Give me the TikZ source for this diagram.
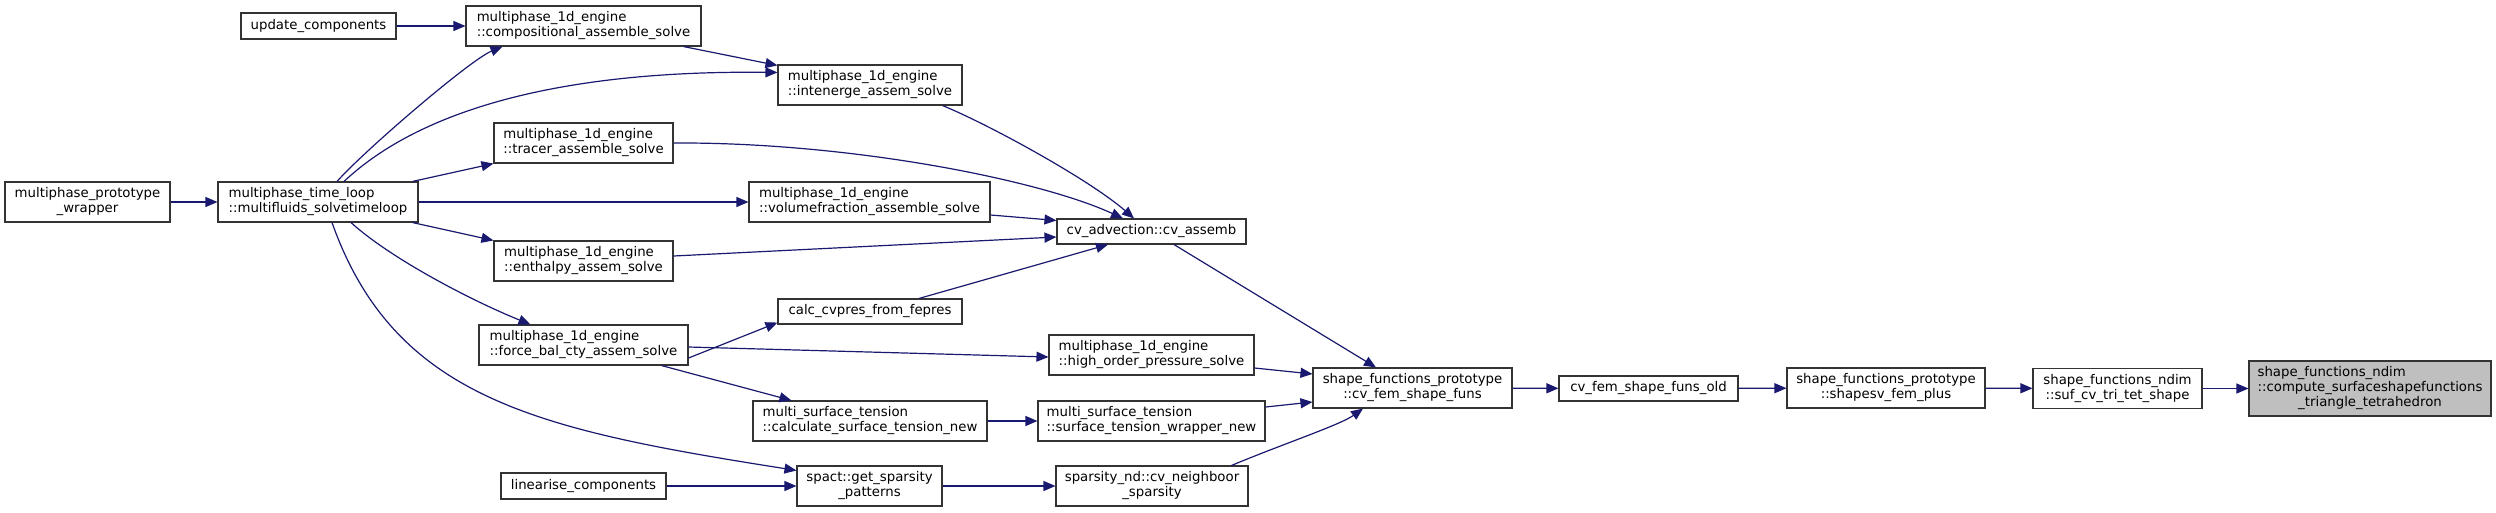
\documentclass[tikz,border=0pt]{standalone}
\usepackage{fontspec}
\setmainfont{DejaVu Sans}
\usetikzlibrary{arrows.meta,positioning}
\definecolor{edgeblue}{HTML}{191970}

\begin{document}
\begin{tikzpicture}[x=1pt,y=-1pt,
  b/.style={draw=black!80,line width=1.1pt,fill=white,inner sep=0pt,align=left,font=\fontsize{13.3}{15}\selectfont},
  e/.style={draw=edgeblue,line width=1.2pt,->},
  >={Triangle[length=12pt,width=10pt]}]
\useasboundingbox[fill=white] (0,0) rectangle (2496,512);
% left part: callers of the time loop
\node[b,minimum width=155pt,minimum height=26pt] (upd) at (318.5,26) {update\_components};
\node[b,minimum width=235pt,minimum height=40pt] (comp) at (583.5,26) {multiphase\_1d\_engine\\::compositional\_assemble\_solve};
\node[b,minimum width=184pt,minimum height=40pt] (inten) at (870,85) {multiphase\_1d\_engine\\::intenerge\_assem\_solve};
\node[b,minimum width=179pt,minimum height=40pt] (trac) at (583.5,143) {multiphase\_1d\_engine\\::tracer\_assemble\_solve};
\node[b,align=center,minimum width=165pt,minimum height=40pt] (wrap) at (87.5,202) {multiphase\_prototype\\\_wrapper};
\node[b,minimum width=200pt,minimum height=40pt] (loop) at (318,202) {multiphase\_time\_loop\\::multifluids\_solvetimeloop};
\node[b,minimum width=241pt,minimum height=40pt] (vol) at (869.5,202) {multiphase\_1d\_engine\\::volumefraction\_assemble\_solve};
\node[b,minimum width=189pt,minimum height=25pt] (asm) at (1151.5,231.5) {cv\_advection::cv\_assemb};
\node[b,minimum width=179pt,minimum height=40pt] (enth) at (583.5,261) {multiphase\_1d\_engine\\::enthalpy\_assem\_solve};
\node[b,minimum width=184pt,minimum height=25pt] (cvp) at (870,311.5) {calc\_cvpres\_from\_fepres};
\node[b,minimum width=209pt,minimum height=40pt] (force) at (583.5,345) {multiphase\_1d\_engine\\::force\_bal\_cty\_assem\_solve};
\node[b,minimum width=205pt,minimum height=40pt] (high) at (1151.5,355) {multiphase\_1d\_engine\\::high\_order\_pressure\_solve};
\node[b,minimum width=234pt,minimum height=40pt] (calst) at (870,421) {multi\_surface\_tension\\::calculate\_surface\_tension\_new};
\node[b,minimum width=227pt,minimum height=40pt] (stw) at (1151.5,421) {multi\_surface\_tension\\::surface\_tension\_wrapper\_new};
\node[b,minimum width=165pt,minimum height=26pt] (lin) at (583.5,486) {linearise\_components};
\node[b,align=center,minimum width=145pt,minimum height=40pt] (gsp) at (869.5,486) {spact::get\_sparsity\\\_patterns};
\node[b,align=center,minimum width=192pt,minimum height=40pt] (nbr) at (1152,486) {sparsity\_nd::cv\_neighboor\\\_sparsity};
% right part: the chain down to the function
\node[b,align=center,minimum width=199pt,minimum height=40pt] (fem) at (1412.5,388) {shape\_functions\_prototype\\::cv\_fem\_shape\_funs};
\node[b,minimum width=179pt,minimum height=25pt] (old) at (1648.5,388.5) {cv\_fem\_shape\_funs\_old};
\node[b,align=center,minimum width=198pt,minimum height=40pt] (svp) at (1886,388) {shape\_functions\_prototype\\::shapesv\_fem\_plus};
\node[b,align=center,minimum width=169pt,minimum height=40pt] (suf) at (2117.5,388.5) {shape\_functions\_ndim\\::suf\_cv\_tri\_tet\_shape};
\node[b,fill=black!25,minimum width=242pt,minimum height=55pt] (surf) at (2370,388.5) {\begin{tabular}{@{}l@{}}shape\_functions\_ndim\\::compute\_surfaceshapefunctions\\\multicolumn{1}{@{}c@{}}{\_triangle\_tetrahedron}\end{tabular}};

\draw[e] (wrap)--(loop);
\draw[e] (upd)--(comp);
\draw[e] ([xshift=19pt]loop.north) .. controls (365,150) and (470,60) .. ([xshift=37pt]comp.south west);
\draw[e] ([xshift=26pt]loop.north) .. controls (420,110) and (560,70) .. ([yshift=-8pt]inten.north west);
\draw[e] ([xshift=-18pt]comp.south east)--([yshift=-1pt]inten.north west);
\draw[e] ([xshift=-6pt]loop.north east)--(trac.south west);
\draw[e] (loop)--(vol);
\draw[e] ([xshift=-6pt]loop.south east)--(enth.north west);
\draw[e] ([xshift=33pt]loop.south) .. controls (390,258) and (470,300) .. ([xshift=52pt]force.north west);
\draw[e] ([xshift=14pt]loop.south) .. controls (395,400) and (540,430) .. ([yshift=-5pt]gsp.north west);
\draw[e] (lin)--(gsp);
\draw[e] ([xshift=-20pt]inten.south east) .. controls (990,125) and (1090,180) .. ([xshift=-17.5pt]asm.north);
\draw[e] (trac.east) .. controls (850,142) and (1040,180) .. ([xshift=-28.5pt]asm.north);
\draw[e] ([yshift=-13pt]vol.east)--([yshift=-2pt]asm.north west);
\draw[e] ([yshift=5pt]enth.east)--([yshift=-5.5pt]asm.west);
\draw[e] ([xshift=49pt]cvp.north)--([xshift=-43.5pt]asm.south);
\draw[e] ([yshift=-13pt]force.east)--([yshift=2pt]cvp.south west);
\draw[e] ([yshift=-2pt]force.east)--([yshift=-2pt]high.west);
\draw[e] ([xshift=-27pt]force.south east)--([xshift=39pt]calst.north west);
\draw[e] (calst)--(stw);
\draw[e] (gsp)--(nbr);
\draw[e] ([xshift=22.5pt]asm.south)--([xshift=-36.5pt]fem.north);
\draw[e] ([yshift=-13pt]high.east)--([yshift=14pt]fem.west);
\draw[e] ([yshift=14pt]stw.east)--([yshift=-14pt]fem.west);
\draw[e] ([xshift=-17pt]nbr.north east) .. controls (1280,445) and (1340,425) .. ([xshift=-49.5pt]fem.south);
\draw[e] (fem)--(old);
\draw[e] (old)--(svp);
\draw[e] (svp)--(suf);
\draw[e] (suf)--(surf);
\end{tikzpicture}
\end{document}
